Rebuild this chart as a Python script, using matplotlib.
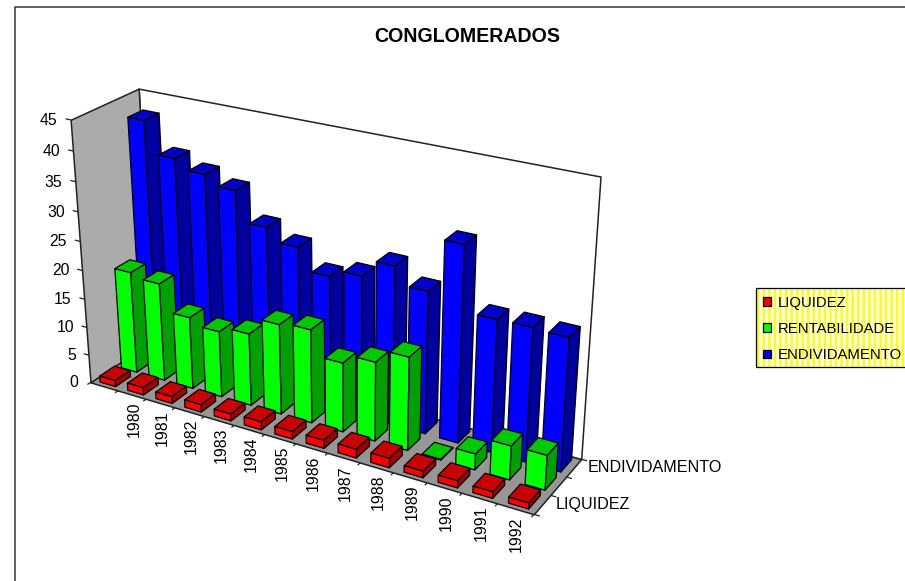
import numpy as np
import matplotlib
matplotlib.use("Agg")
import matplotlib.pyplot as plt
from matplotlib.patches import Patch, Rectangle
from matplotlib.lines import Line2D
from mpl_toolkits.mplot3d import Axes3D
from mpl_toolkits.mplot3d.art3d import Poly3DCollection

plt.rcParams['font.family'] = ['Liberation Sans', 'DejaVu Sans']
plt.rcParams['hatch.linewidth'] = 1.8

title = "CONGLOMERADOS"
years = ["", "1980", "1981", "1982", "1983", "1984", "1985", "1986", "1987", "1988", "1989", "1990", "1991", "1992"]
value_ticks = [0, 5, 10, 15, 20, 25, 30, 35, 40, 45]
series_names = ["LIQUIDEZ", "RENTABILIDADE", "ENDIVIDAMENTO"]
depth_labels = ["LIQUIDEZ", "", "ENDIVIDAMENTO"]
liquidez = [1.1, 1.3, 1.2, 1.3, 1.2, 1.4, 1.3, 1.4, 1.5, 1.6, 1.1, 1.2, 1.1, 1.0]
rentabilidade = [18.0, 17.3, 12.7, 11.6, 12.6, 15.6, 16.1, 11.9, 13.5, 15.8, 0.1, 2.7, 5.7, 5.8]
endividamento = [41.9, 36.6, 35.0, 33.4, 28.4, 26.3, 22.7, 24.0, 26.9, 24.1, 32.8, 22.2, 22.3, 22.1]

W, H = 905, 581
fig = plt.figure(figsize=(W / 100, H / 100), dpi=100)
ax = fig.add_axes([0, (H - W) / 2 / H, 1, W / H], projection='3d')
ax.set_axis_off()
ax.patch.set_visible(False)
ax.computed_zorder = False

# camera calibration: world (category, row, value) -> reference pixel
tick_px = {0: (90.7, 381.7), 1: (117.7, 390.7), 2: (146, 401), 3: (175, 410), 4: (204.3, 419),
           5: (234.3, 428.3), 6: (265, 437), 7: (296, 445), 11: (426.7, 484.3), 12: (461.7, 493.3),
           13: (496.7, 503.3), 14: (533.3, 514.3)}
val_py = {45: 119.3, 40: 150, 35: 180.7, 30: 211, 25: 240.7, 20: 270, 15: 298.3, 10: 326.7, 5: 354.5}
calib = [((k, 0, 0), p, 3 if k in (0, 14) else 1) for k, p in tick_px.items()]
calib += [((0, 0, v), (90.7 - 19.7 * (381.7 - py) / 262.4, py), 3 if v == 45 else 1) for v, py in val_py.items()]
calib += [((0, 3, 45), (138, 89.3), 3), ((14, 3, 45), (600.7, 176.7), 3), ((14, 3, 0), (581.7, 458.3), 3)]
rows = []
for (x, y, z), (u, v), wt in calib:
    rows.append(wt * np.array([x, y, z, 1, 0, 0, 0, 0, -u * x, -u * y, -u * z, -u]))
    rows.append(wt * np.array([0, 0, 0, 0, x, y, z, 1, -v * x, -v * y, -v * z, -v]))
P = np.linalg.svd(np.array(rows, float))[2][-1].reshape(3, 4)
P = P / P[2, 3]


def to_px(x, y, z):
    h = P @ np.array([x, y, z, 1.0])
    return h[0] / h[2], h[1] / h[2]


ax.apply_aspect()
inv = ax.transData.inverted().get_matrix()
flip = np.array([[1, 0, 0], [0, -1, H], [0, 0, 1.0]])
P2 = inv @ flip @ P
M = np.array([P2[0], P2[1], [-1 / 14, 1 / 3, -1 / 45, 0.0], P2[2]])
ax.get_proj = lambda: M


def fig_text(x, y, z, s, dx=0, dy=0, **kw):
    u, v = to_px(x, y, z)
    return fig.text((u + dx) / W, 1 - (v + dy) / H, s, **kw)


nx, ny, zmax = len(years), len(series_names), value_ticks[-1]
# walls and floor
wall = dict(linewidths=1.1)
ax.add_collection3d(Poly3DCollection([[(0, ny, 0), (nx, ny, 0), (nx, ny, zmax), (0, ny, zmax)]],
                                     facecolors='white', edgecolors='#222222', zorder=1, **wall))
ax.add_collection3d(Poly3DCollection([[(0, 0, 0), (0, ny, 0), (0, ny, zmax), (0, 0, zmax)]],
                                     facecolors='#ababab', edgecolors='#222222', zorder=2, **wall))
ax.add_collection3d(Poly3DCollection([[(0, 0, 0), (nx, 0, 0), (nx, ny, 0), (0, ny, 0)]],
                                     facecolors='#969696', edgecolors='#222222', zorder=3, **wall))

# bars: back row first, left to right
BW, BD, X0, Y0 = 0.56, 0.70, 0.23, 0.15
series = [liquidez, rentabilidade, endividamento]
front = ['#ff0000', '#00ff00', '#0000ff']
top = ['#c80000', '#00c800', '#0000c8']
side = ['#a00000', '#00a000', '#0000a0']
none = (0, 0, 0, 0)
z = 10
for r in range(ny - 1, -1, -1):
    for i, val in enumerate(series[r]):
        # faces: bottom, top, front, back, left, right
        fc = [none, top[r], front[r], none, none, side[r]]
        ec = [none, 'k', 'k', none, none, 'k']
        ax.bar3d(i + X0, r + Y0, 0, BW, BD, val, color=fc, edgecolor=ec,
                 linewidth=0.9, shade=False, zorder=z)
        z += 1

# axis ticks and labels
tick_kw = dict(color='#222222', lw=0.9, zorder=2)
for v in value_ticks:
    ax.plot([0, -0.15], [0, 0], [v, v], **tick_kw)
    fig_text(-0.45, 0, v, str(v), dy=3.5, ha='right', va='center', fontsize=11.3)
for k in range(nx + 1):
    ax.plot([k, k], [0, -0.12], [0, 0], **tick_kw)
for k, lab in enumerate(years):
    fig_text(k + 0.5, 0, -1.6, lab, dx=1.5, dy=-2, rotation=90, ha='center', va='top', fontsize=11.4)
for r in range(ny + 1):
    ax.plot([nx, nx + 0.15], [r, r], [0, 0], **tick_kw)
for r, lab in enumerate(depth_labels):
    fig_text(nx + 0.38, r + 0.5, 0, lab, dx=0, dy=-4.5, ha='left', va='center', fontsize=11.6)

fig.text(467 / W, 1 - 37 / H, title, ha='center', va='center', fontsize=14.1, fontweight='bold')

# chart-area frame
fig.add_artist(Line2D([15 / W, 15 / W, 1], [0, 1 - 6.5 / H, 1 - 6.5 / H], color='#333333', lw=1.1))

# legend box: yellow stripes on white, black border
box = dict(xy=(756 / W, 1 - 367.3 / H), width=152 / W, height=79 / H, transform=fig.transFigure)
fig.add_artist(Rectangle(facecolor='white', edgecolor='yellow', hatch='|||', linewidth=0, zorder=3, **box))
fig.add_artist(Rectangle(fill=False, edgecolor='k', linewidth=0.9, zorder=4, **box))
handles = [Patch(facecolor=c, edgecolor='k', linewidth=0.9) for c in front]
fig.legend(handles, series_names, loc='upper left', bbox_to_anchor=(756 / W, 1 - 288.3 / H),
           fontsize=10.7, frameon=False, borderaxespad=0,
           handlelength=0.5, handleheight=0.5, handletextpad=0.45, labelspacing=0.82,
           borderpad=0.5)

fig.savefig('out.png', dpi=100)
